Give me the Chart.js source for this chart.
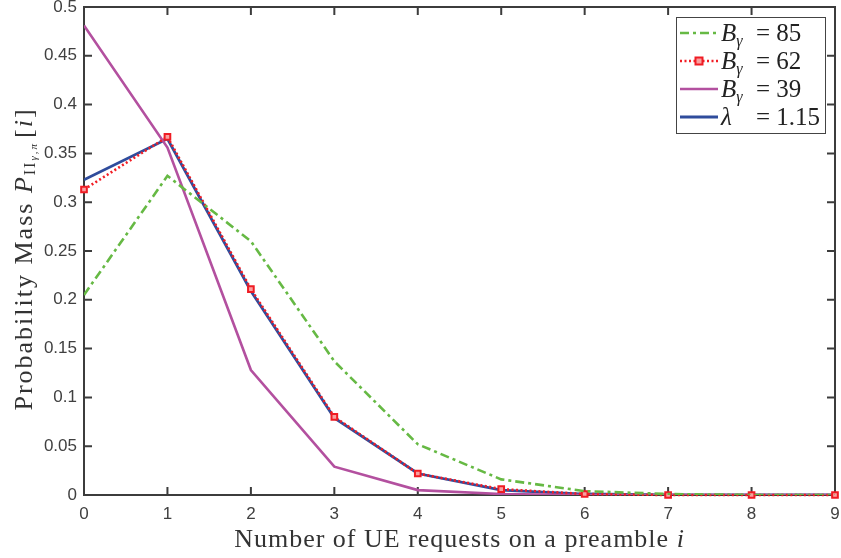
<!DOCTYPE html>
<html>
<head>
<meta charset="utf-8">
<script src="https://cdn.jsdelivr.net/npm/chart.js@4.4.1/dist/chart.umd.min.js"></script>
<style>
  html, body { margin: 0; padding: 0; background: #fff; }
  #wrap { width: 841px; height: 558px; }
</style>
</head>
<body>
<div id="wrap"><canvas id="pmf"></canvas></div>
<script>
const requests = [0, 1, 2, 3, 4, 5, 6, 7, 8, 9];
const b85 = [0.205, 0.327, 0.260, 0.137, 0.052, 0.016, 0.004, 0.001, 0.0, 0.0];
const b62 = [0.313, 0.367, 0.211, 0.080, 0.022, 0.006, 0.001, 0.0, 0.0, 0.0];
const b39 = [0.481, 0.356, 0.128, 0.029, 0.005, 0.001, 0.0, 0.0, 0.0, 0.0];
const lam = [0.323, 0.365, 0.209, 0.079, 0.022, 0.005, 0.001, 0.0, 0.0, 0.0];
const yTicks = [0, 0.05, 0.1, 0.15, 0.2, 0.25, 0.3, 0.35, 0.4, 0.45, 0.5];
const legendNames = [['B', 'γ', '= 85'], ['B', 'γ', '= 62'], ['B', 'γ', '= 39'], ['λ', '', '= 1.15']];

const axisColor = '#3c3c3c';
const serif = '"Liberation Serif", "DejaVu Serif", serif';
const sans = '"Liberation Sans", Arial, sans-serif';

const pts = arr => arr.map((v, i) => ({ x: requests[i], y: v }));

// draw a run of text pieces with different fonts/offsets, centered on (cx, cy)
function drawRuns(ctx, runs, cx, cy, spacing) {
    ctx.letterSpacing = spacing + 'px';
    let total = 0;
    runs.forEach(r => { ctx.font = r.font; r.w = ctx.measureText(r.t).width; total += r.w + (r.gap || 0); });
    let x = cx - total / 2;
    ctx.textBaseline = 'alphabetic';
    ctx.textAlign = 'left';
    runs.forEach(r => {
        ctx.font = r.font;
        ctx.fillText(r.t, x, cy + (r.dy || 0));
        x += r.w + (r.gap || 0);
    });
    ctx.letterSpacing = '0px';
}

const framePlugin = {
    id: 'frame',
    beforeDatasetsDraw(chart) {
        // box with inward ticks on all four sides
        const { ctx, chartArea: a, scales } = chart;
        ctx.save();
        ctx.strokeStyle = axisColor;
        ctx.lineWidth = 2;
        ctx.strokeRect(a.left, a.top, a.right - a.left, a.bottom - a.top);
        const len = 8;
        ctx.beginPath();
        scales.x.ticks.forEach(t => {
            const px = scales.x.getPixelForValue(t.value);
            ctx.moveTo(px, a.bottom); ctx.lineTo(px, a.bottom - len);
            ctx.moveTo(px, a.top); ctx.lineTo(px, a.top + len);
        });
        scales.y.ticks.forEach(t => {
            const py = scales.y.getPixelForValue(t.value);
            ctx.moveTo(a.left, py); ctx.lineTo(a.left + len, py);
            ctx.moveTo(a.right, py); ctx.lineTo(a.right - len, py);
        });
        ctx.stroke();
        ctx.restore();
    },
    afterDatasetsDraw(chart) {
        const { ctx, chartArea: a } = chart;
        ctx.save();

        // legend box
        const lx = 676, ly = 17, lw = 149, lh = 116;
        ctx.fillStyle = '#fff';
        ctx.fillRect(lx, ly, lw, lh);
        ctx.lineWidth = 1;
        ctx.strokeStyle = '#444';
        ctx.strokeRect(lx + 0.5, ly + 0.5, lw, lh);
        const rows = [33, 61, 89, 117];
        chart.data.datasets.forEach((ds, i) => {
            const y = rows[i];
            ctx.save();
            ctx.strokeStyle = ds.borderColor;
            ctx.lineWidth = ds.borderWidth;
            ctx.setLineDash(ds.borderDash || []);
            ctx.beginPath();
            ctx.moveTo(680, y); ctx.lineTo(718, y);
            ctx.stroke();
            if (ds.pointRadius > 0) {
                ctx.setLineDash([]);
                ctx.fillStyle = ds.pointBackgroundColor;
                ctx.strokeStyle = ds.pointBorderColor;
                ctx.lineWidth = ds.pointBorderWidth;
                ctx.fillRect(695.5, y - 3.5, 7, 7);
                ctx.strokeRect(695.5, y - 3.5, 7, 7);
            }
            ctx.restore();
            const n = legendNames[i];
            ctx.fillStyle = '#222';
            ctx.textAlign = 'left';
            ctx.textBaseline = 'alphabetic';
            ctx.font = 'italic 25px ' + serif;
            ctx.fillText(n[0], 721, y + 8);
            const x = 721 + ctx.measureText(n[0]).width;
            if (n[1]) {
                ctx.font = 'italic 16px ' + serif;
                ctx.fillText(n[1], x, y + 13);
            }
            ctx.font = '25px ' + serif;
            ctx.fillText(n[2], 756, y + 8);
        });

        // axis titles
        ctx.fillStyle = '#333';
        const cx = (a.left + a.right) / 2;
        drawRuns(ctx, [
            { t: 'Number of UE requests on a preamble ', font: '26px ' + serif },
            { t: 'i', font: 'italic 26px ' + serif }
        ], cx, 547, 1);

        ctx.save();
        ctx.translate(32, (a.top + a.bottom) / 2 + 8);
        ctx.rotate(-Math.PI / 2);
        drawRuns(ctx, [
            { t: 'Probability Mass ', font: '26px ' + serif },
            { t: 'P', font: 'italic 26px ' + serif },
            { t: 'II', font: '16px ' + serif, dy: 3 },
            { t: 'γ,π', font: 'italic 11px ' + serif, dy: 5, gap: 4 },
            { t: '[', font: '26px ' + serif },
            { t: 'i', font: 'italic 26px ' + serif },
            { t: ']', font: '26px ' + serif }
        ], 0, 0, 2);
        ctx.restore();
        ctx.restore();
    }
};

new Chart(document.getElementById('pmf'), {
    type: 'line',
    data: {
        datasets: [
            {
                label: 'B85',
                data: pts(b85),
                borderColor: '#66b944',
                borderWidth: 2.6,
                borderDash: [9, 4, 3, 4],
                pointRadius: 0
            },
            {
                label: 'B62',
                data: pts(b62),
                borderColor: '#f21d24',
                borderWidth: 2.6,
                borderDash: [2, 2.5],
                pointStyle: 'rect',
                pointRadius: 4,
                pointBorderWidth: 2,
                pointBorderColor: '#ef1c24',
                pointBackgroundColor: '#f8a0a0',
                clip: false
            },
            {
                label: 'B39',
                data: pts(b39),
                borderColor: '#b3509f',
                borderWidth: 2.6,
                pointRadius: 0
            },
            {
                label: 'lambda',
                data: pts(lam),
                borderColor: '#2f4c9c',
                borderWidth: 2.8,
                pointRadius: 0
            }
        ]
    },
    options: {
        responsive: true,
        maintainAspectRatio: false,
        animation: false,
        layout: { padding: { top: 7, right: 5, left: 0, bottom: 0 } },
        plugins: {
            legend: { display: false },
            tooltip: { enabled: false }
        },
        elements: { line: { tension: 0 } },
        scales: {
            x: {
                type: 'linear',
                min: 0,
                max: 9,
                grid: { display: false, drawTicks: false },
                border: { display: false },
                afterFit: s => { s.height = 63; s.paddingLeft = 0; s.paddingRight = 0; },
                ticks: {
                    stepSize: 1,
                    padding: 9,
                    color: '#404040',
                    font: { family: sans, size: 17 }
                }
            },
            y: {
                min: 0,
                max: 0.5,
                grid: { display: false, drawTicks: false },
                border: { display: false },
                afterFit: s => { s.width = 84; s.paddingTop = 0; s.paddingBottom = 0; },
                afterBuildTicks: s => { s.ticks = yTicks.map(v => ({ value: v })); },
                ticks: {
                    padding: 7,
                    color: '#404040',
                    font: { family: sans, size: 17 },
                    callback: v => String(+v.toFixed(2))
                }
            }
        }
    },
    plugins: [framePlugin]
});
</script>
</body>
</html>
